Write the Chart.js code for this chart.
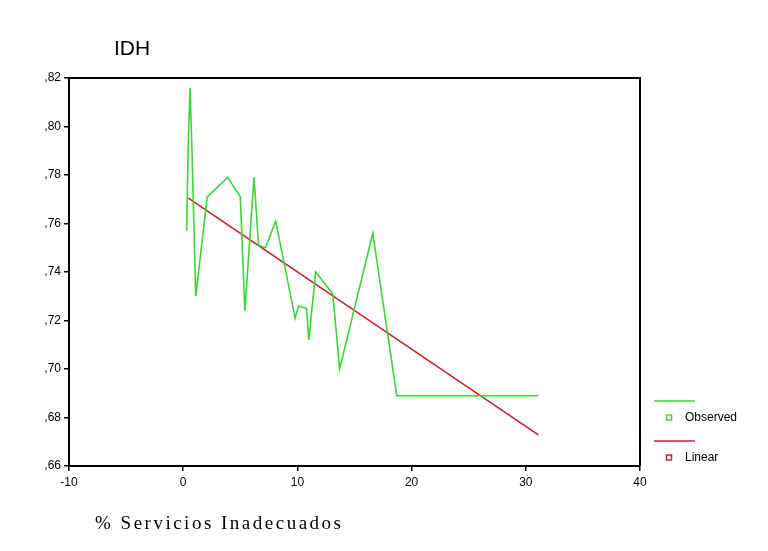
<!DOCTYPE html>
<html>
<head>
<meta charset="utf-8">
<script src="https://cdn.jsdelivr.net/npm/chart.js@4/dist/chart.umd.min.js"></script>
<style>
  html, body { margin: 0; padding: 0; background: #fff; }
  #wrap { width: 768px; height: 551px; position: relative; }
</style>
</head>
<body>
<div id="wrap"><canvas id="c" width="768" height="551"></canvas></div>
<script>
// % Servicios Inadecuados (x) and IDH (y), observed values
const obsX = [0.3, 0.45, 0.6, 0.75, 1.1, 2.1, 3.9, 5.0, 5.4, 6.2, 6.6, 7.2, 8.1, 9.8, 10.1, 10.8, 11.0, 11.6, 13.1, 13.7, 16.6, 18.7, 31.1];
const obsY = [0.757, 0.794, 0.816, 0.793, 0.730, 0.771, 0.779, 0.771, 0.724, 0.779, 0.751, 0.750, 0.761, 0.721, 0.726, 0.725, 0.712, 0.740, 0.731, 0.700, 0.756, 0.689, 0.689];

// Linear fit drawn across the observed range
const fitX = [0.45, 31.1];
const fitY = [0.7705, 0.6728];

const xTicks = [-10, 0, 10, 20, 30, 40];
const yTicks = [0.66, 0.68, 0.70, 0.72, 0.74, 0.76, 0.78, 0.80, 0.82];

const seriesNames = ['Observed', 'Linear'];
const titleY = 'IDH';
const titleX = '% Servicios Inadecuados';

const GREEN = '#3ad63a';
const RED = '#c8202e';

const toPts = (xs, ys) => xs.map((x, i) => ({ x: x, y: ys[i] }));

const decorations = {
  id: 'decorations',
  afterDraw(chart) {
    const ctx = chart.ctx;
    const a = chart.chartArea;
    ctx.save();
    // frame top and right
    ctx.strokeStyle = '#000';
    ctx.lineWidth = 2;
    ctx.beginPath();
    ctx.moveTo(a.left, a.top);
    ctx.lineTo(a.right, a.top);
    ctx.lineTo(a.right, a.bottom);
    ctx.stroke();

    // axis titles
    ctx.fillStyle = '#000';
    ctx.textBaseline = 'alphabetic';
    ctx.textAlign = 'left';
    ctx.font = '21px "Liberation Sans", Arial, sans-serif';
    ctx.fillText(titleY, 114, 55);
    ctx.font = '19px "Liberation Serif", "Times New Roman", serif';
    ctx.letterSpacing = '2.5px';
    ctx.fillText(titleX, 95, 529);
    ctx.letterSpacing = '0px';

    // legend
    const ds = chart.data.datasets;
    const rows = [401, 441];
    ctx.font = '12px "Liberation Sans", Arial, sans-serif';
    ds.forEach((d, i) => {
      const y = rows[i];
      ctx.strokeStyle = d.borderColor;
      ctx.lineWidth = 1.5;
      ctx.beginPath();
      ctx.moveTo(654, y);
      ctx.lineTo(695, y);
      ctx.stroke();
      ctx.lineWidth = 1.5;
      ctx.strokeRect(666.5, y + 14, 5, 5);
      ctx.fillStyle = '#000';
      ctx.textBaseline = 'middle';
      ctx.fillText(d.label, 685, y + 17);
    });
    ctx.restore();
  }
};

new Chart(document.getElementById('c'), {
  type: 'scatter',
  data: {
    datasets: [
      {
        label: seriesNames[0],
        data: toPts(obsX, obsY),
        showLine: true,
        borderColor: GREEN,
        backgroundColor: GREEN,
        borderWidth: 1.6,
        pointRadius: 0,
        tension: 0
      },
      {
        label: seriesNames[1],
        data: toPts(fitX, fitY),
        showLine: true,
        borderColor: RED,
        backgroundColor: RED,
        borderWidth: 1.6,
        pointRadius: 0,
        tension: 0
      }
    ]
  },
  options: {
    responsive: false,
    animation: false,
    devicePixelRatio: 1,
    layout: { padding: { left: 0, top: 78, right: 128, bottom: 0 } },
    plugins: {
      legend: { display: false },
      tooltip: { enabled: false },
      title: { display: false }
    },
    scales: {
      x: {
        type: 'linear',
        min: -10,
        max: 40,
        afterFit(s) { s.height = 85; },
        afterBuildTicks(s) { s.ticks = xTicks.map(v => ({ value: v })); },
        grid: { display: true, drawOnChartArea: false, drawTicks: true, tickLength: 5, color: '#000', lineWidth: 1.5 },
        border: { display: true, color: '#000', width: 2 },
        ticks: {
          color: '#000',
          padding: 4,
          maxRotation: 0,
          font: { family: '"Liberation Sans", Arial, sans-serif', size: 12 },
          callback: v => String(v)
        }
      },
      y: {
        type: 'linear',
        min: 0.66,
        max: 0.82,
        afterFit(s) { s.width = 69; },
        afterBuildTicks(s) { s.ticks = yTicks.map(v => ({ value: v })); },
        grid: { display: true, drawOnChartArea: false, drawTicks: true, tickLength: 5, color: '#000', lineWidth: 1.5 },
        border: { display: true, color: '#000', width: 2 },
        ticks: {
          color: '#000',
          padding: 3,
          font: { family: '"Liberation Sans", Arial, sans-serif', size: 12 },
          callback: v => ',' + Math.round(v * 100).toString().padStart(2, '0')
        }
      }
    }
  },
  plugins: [decorations]
});
</script>
</body>
</html>
